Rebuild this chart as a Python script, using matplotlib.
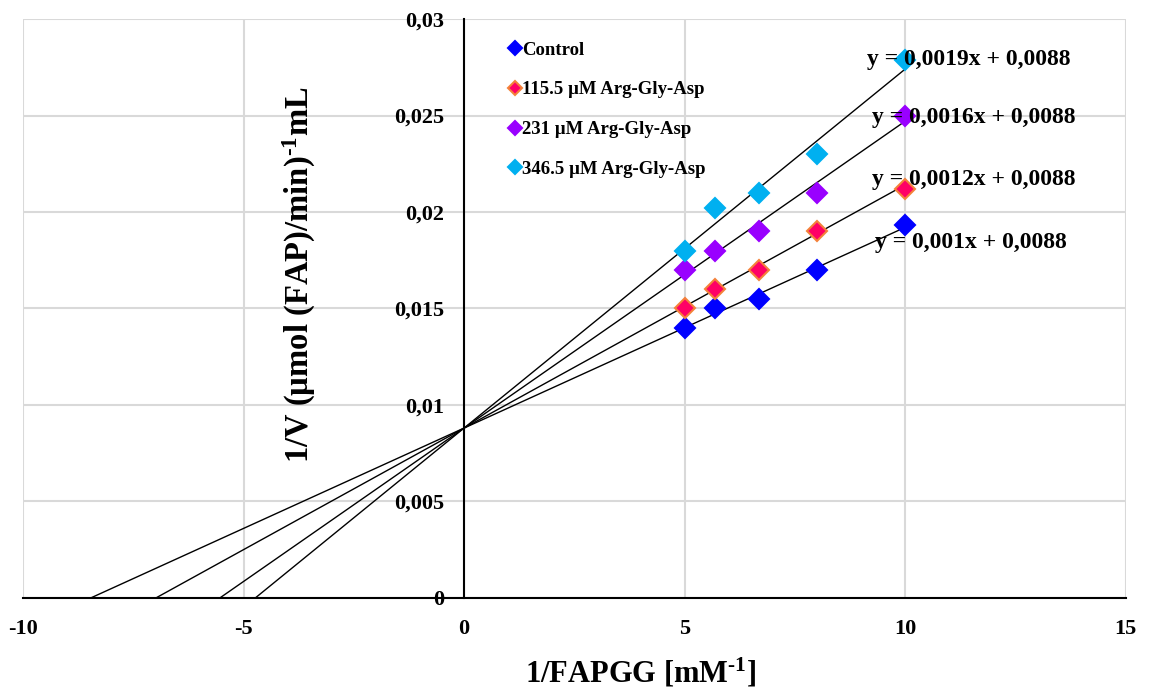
import numpy as np
import matplotlib.pyplot as plt
from matplotlib.ticker import FuncFormatter

plt.rcParams['font.family'] = ['Liberation Serif', 'DejaVu Serif']
plt.rcParams['font.weight'] = 'bold'
plt.rcParams['axes.unicode_minus'] = False
plt.rcParams['mathtext.fontset'] = 'custom'
plt.rcParams['mathtext.rm'] = 'Liberation Serif:bold'
plt.rcParams['mathtext.default'] = 'rm'

# 1/[S] values (mM^-1)
x_vals = [5, 5.7, 6.7, 8, 10]

series_names = ['Control', '115.5 µM Arg-Gly-Asp', '231 µM Arg-Gly-Asp', '346.5 µM Arg-Gly-Asp']
control = [0.014, 0.015, 0.0155, 0.017, 0.0193]
rgd_115 = [0.015, 0.016, 0.017, 0.019, 0.0212]
rgd_231 = [0.017, 0.018, 0.019, 0.021, 0.025]
rgd_346 = [0.018, 0.0202, 0.021, 0.023, 0.0279]

# trendlines (slope, intercept) as drawn
slopes = [0.00104, 0.00126, 0.00159, 0.00186]
intercept = 0.0088
eq_labels = ['y = 0,001x + 0,0088', 'y = 0,0012x + 0,0088',
             'y = 0,0016x + 0,0088', 'y = 0,0019x + 0,0088']

face_colors = ['#0000FF', '#FF0066', '#9900FF', '#00B0F0']
edge_colors = ['#0000FF', '#F4813A', '#9900FF', '#00B0F0']

fig = plt.figure(figsize=(11.52, 6.92), dpi=100)
ax = fig.add_axes([0.02, 0.136, 0.957, 0.8365])

ys = [control, rgd_115, rgd_231, rgd_346]
for i in range(4):
    x0 = -intercept / slopes[i]
    xx = np.array([x0, 10])
    ax.plot(xx, slopes[i] * xx + intercept, color='black', lw=1, zorder=2)
for i in range(4):
    ax.plot(x_vals, ys[i], linestyle='none', marker='D', markersize=10,
            markerfacecolor=face_colors[i], markeredgecolor=edge_colors[i],
            markeredgewidth=1.5, label=series_names[i], zorder=3)

# equation labels (pixel x, data y)
eq_pos = [(972, 0.0184), (975, 0.0217), (975, 0.0249), (970, 0.0279)]
for (xp, yp), lab in zip(eq_pos, eq_labels):
    ax.text((xp - 465) / 44.15, yp, lab, fontsize=17, fontweight='bold',
            ha='center', va='center', zorder=4)

ax.set_xlim(-10, 15)
ax.set_ylim(0, 0.03)
ax.set_xticks([-10, -5, 0, 5, 10, 15])
ax.set_yticks(np.arange(0, 0.0301, 0.005))
ax.yaxis.set_major_formatter(FuncFormatter(
    lambda v, p: '0' if abs(v) < 1e-12 else ('%g' % v).replace('.', ',')))
ax.grid(True, color='#D9D9D9', lw=1.5)
ax.set_axisbelow(True)

ax.spines['left'].set_position(('data', 0))
ax.spines['bottom'].set_position(('data', 0))
ax.spines['right'].set_visible(False)
ax.spines['top'].set_visible(False)
for s in ['left', 'bottom']:
    ax.spines[s].set_color('black')
    ax.spines[s].set_linewidth(1.5)
ax.tick_params(axis='y', length=0, labelsize=16, pad=14)
ax.tick_params(axis='x', length=0, labelsize=16, pad=15)
for lab in ax.get_xticklabels() + ax.get_yticklabels():
    lab.set_fontweight('bold')

ax.text(0.251, 0.558, r'1/V (µmol (FAP)/min)$^{\text{-1}}$mL', transform=ax.transAxes,
        rotation=90, fontsize=23.5, fontweight='bold', ha='center', va='center')
fig.text(0.556, 0.027, r'1/FAPGG [mM$^{\text{-1}}$]', fontsize=22, fontweight='bold',
         ha='center', va='center')

ax.legend(loc='upper left', bbox_to_anchor=(0.427, 0.99), frameon=False,
          prop={'size': 13.5, 'weight': 'bold'}, handlelength=0.5,
          handletextpad=0.1, labelspacing=1.2, markerscale=0.75)

fig.savefig('out.png', dpi=100)
